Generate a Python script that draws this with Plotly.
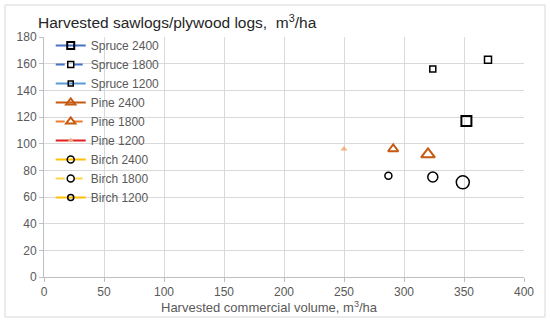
import plotly.graph_objects as go

# series: name, harvested commercial volume (x), sawlogs/plywood logs (y)
names = ["Spruce 2400", "Spruce 1800", "Spruce 1200",
         "Pine 2400", "Pine 1800", "Pine 1200",
         "Birch 2400", "Birch 1800", "Birch 1200"]
x_vals = [352, 370, 324, 320, 291, 250, 349, 324, 287]
y_vals = [117, 163, 156, 92, 96, 96, 71, 75, 76]

x_ticks = [0, 50, 100, 150, 200, 250, 300, 350, 400]
y_ticks = [0, 20, 40, 60, 80, 100, 120, 140, 160, 180]

# styling per series
line_colors = ["#4472C4", "#4472C4", "#5B9BD5",
               "#C55A11", "#ED7D31", "#E02020",
               "#FFC000", "#FFD54A", "#FFC000"]
dashes = ["solid", "dash", "solid", "solid", "dash", "solid", "solid", "dash", "solid"]
symbols = ["square-open", "square-open", "square-open",
           "triangle-up-open", "triangle-up-open", "triangle-up",
           "circle-open", "circle-open", "circle-open"]
marker_colors = ["#000000", "#000000", "#000000",
                 "#C55A11", "#C55A11", "#F4B183",
                 "#000000", "#000000", "#000000"]
sizes = [10, 7, 6, 12, 9, 6, 13, 10, 7]
legend_sizes = [7, 6, 5, 8, 8, 6, 7, 7, 6]
mlw = [2, 1.5, 1.5, 2, 2, 0, 1.5, 1.5, 1.5]

fig = go.Figure()
for i in range(len(names)):
    # actual point
    fig.add_trace(go.Scatter(
        x=[x_vals[i]], y=[y_vals[i]], name=names[i], mode="markers",
        showlegend=False, legendgroup=names[i],
        marker=dict(symbol=symbols[i], size=sizes[i], color=marker_colors[i],
                    line=dict(width=mlw[i], color=marker_colors[i]))))
    # legend entry (line + small marker, like the Excel legend)
    fig.add_trace(go.Scatter(
        x=[None], y=[None], name=names[i], mode="lines+markers",
        legendgroup=names[i],
        line=dict(color=line_colors[i], width=2, dash=dashes[i]),
        marker=dict(symbol=symbols[i], size=legend_sizes[i], color=marker_colors[i],
                    line=dict(width=mlw[i], color=marker_colors[i]))))

grey = "#595959"
fig.update_layout(
    width=550, height=322,
    margin=dict(l=44, r=26, t=37, b=45),
    plot_bgcolor="white", paper_bgcolor="white",
    font=dict(family="Liberation Sans, Arial, sans-serif", size=12, color=grey),
    title=dict(text="Harvested sawlogs/plywood logs,  m<sup>3</sup>/ha",
               x=38/550, xanchor="left", y=1-23/322, yanchor="middle",
               font=dict(size=15.5, color="#262626"), automargin=False),
    legend=dict(x=0.014, y=1.025, xanchor="left", yanchor="top",
                bgcolor="rgba(0,0,0,0)", font=dict(size=12, color=grey),
                tracegroupgap=0, maxheight=300),
    showlegend=True,
)
fig.update_xaxes(range=[0, 400], tickvals=x_ticks, showgrid=True, gridcolor="#D9D9D9",
                 zeroline=False, showline=True, linecolor="#BFBFBF", automargin=False,
                 ticks="outside", ticklen=4, tickcolor="#BFBFBF")
fig.update_yaxes(range=[0, 180], tickvals=y_ticks, showgrid=True, gridcolor="#D9D9D9",
                 zeroline=False, showline=True, linecolor="#BFBFBF", automargin=False,
                 ticks="outside", ticklen=4, tickcolor="#BFBFBF")

# x axis title, sits a bit left of the plot centre like in the original
fig.add_annotation(text="Harvested commercial volume, m<sup>3</sup>/ha",
                   xref="paper", yref="paper", x=0.47, y=-0.125,
                   xanchor="center", yanchor="middle", showarrow=False,
                   font=dict(size=13, color=grey))

# outer chart border
fig.add_shape(type="rect", xref="paper", yref="paper",
              x0=-39/480, x1=501/480, y0=-40/240, y1=272/240,
              line=dict(color="#D9D9D9", width=1), layer="below")

# drop the default 8px body margin so the figure sits at the window corner
fig.write_html("out.html", config={"displayModeBar": False},
               post_script="document.body.style.margin='0px';")
